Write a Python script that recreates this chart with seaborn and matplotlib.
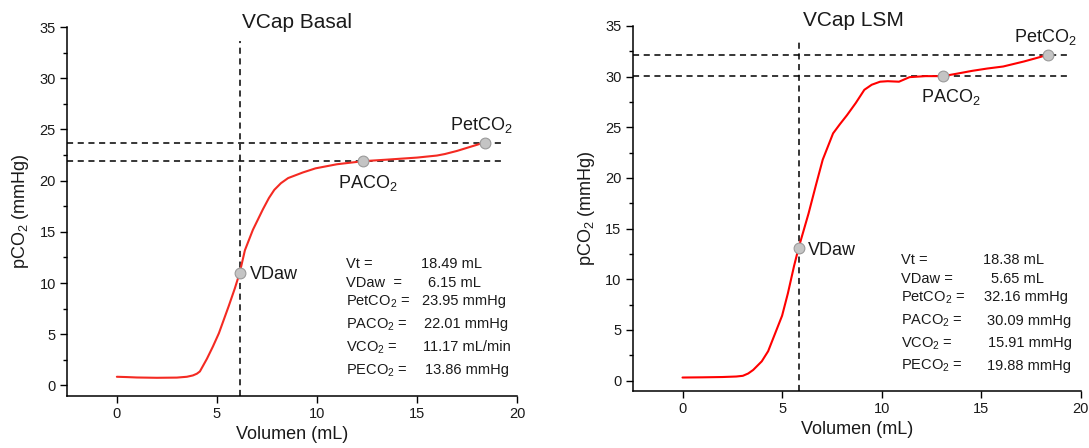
import numpy as np
import pandas as pd
import seaborn as sns
import matplotlib
matplotlib.use("Agg")
import matplotlib.pyplot as plt
from matplotlib.ticker import MultipleLocator

# ---------------- data ----------------
basal_vol = [0, 0.5, 1, 2, 3, 3.5, 3.8, 4.0, 4.15, 4.5, 4.8, 5.1, 5.6, 5.9, 6.14, 6.4, 6.8,
             7.3, 7.6, 7.87, 8.2, 8.56, 9.3, 9.93, 11, 12.31, 13.5, 15, 16.0, 16.4, 17.0,
             17.5, 18.0, 18.39]
basal_pco2 = [0.85, 0.82, 0.78, 0.75, 0.77, 0.85, 0.98, 1.15, 1.37, 2.6, 3.8, 5.1, 7.8, 9.5,
              11.0, 13.2, 15.2, 17.2, 18.3, 19.1, 19.75, 20.25, 20.8, 21.2, 21.6, 21.9, 22.05,
              22.25, 22.45, 22.6, 22.9, 23.2, 23.5, 23.75]
basal_pts_x = [6.14, 12.31, 18.39]
basal_pts_y = [11.03, 21.9, 23.72]

lsm_vol = [0, 1, 2, 2.7, 3.03, 3.3, 3.55, 3.98, 4.3, 4.59, 5.0, 5.29, 5.6, 5.83, 6.33, 6.7,
           7.04, 7.56, 7.9, 8.26, 8.7, 9.13, 9.5, 9.92, 10.3, 10.87, 11.4, 12.2, 13.09, 13.8,
           14.54, 15.3, 16.1, 17.15, 17.8, 18.33]
lsm_pco2 = [0.3, 0.32, 0.35, 0.4, 0.47, 0.7, 1.05, 1.9, 2.9, 4.35, 6.4, 8.6, 11.3, 13.1, 16.5,
            19.3, 21.8, 24.4, 25.3, 26.2, 27.4, 28.7, 29.2, 29.5, 29.55, 29.5, 29.95, 30.05,
            30.05, 30.3, 30.57, 30.8, 31.0, 31.5, 31.85, 32.15]
lsm_pts_x = [5.83, 13.09, 18.33]
lsm_pts_y = [13.1, 30.05, 32.15]

point_names = ["VDaw", r"PACO$_2$", r"PetCO$_2$"]
stat_labels_basal = ["Vt =", "VDaw  =", r"PetCO$_2$ =", r"PACO$_2$ =", r"VCO$_2$ =", r"PECO$_2$ ="]
stat_values_basal = ["18.49 mL", "6.15 mL", "23.95 mmHg", "22.01 mmHg", "11.17 mL/min", "13.86 mmHg"]
stat_labels_lsm = ["Vt =", "VDaw =", r"PetCO$_2$ =", r"PACO$_2$ =", r"VCO$_2$ =", r"PECO$_2$ ="]
stat_values_lsm = ["18.38 mL", "5.65 mL", "32.16 mmHg", "30.09 mmHg", "15.91 mmHg", "19.88 mmHg"]

titles = ["VCap Basal", "VCap LSM"]
xticks = [0, 5, 10, 15, 20]
yticks = [0, 5, 10, 15, 20, 25, 30, 35]

# ---------------- style ----------------
sns.set_theme(style="ticks")
plt.rcParams["font.family"] = ["Liberation Sans", "DejaVu Sans"]
plt.rcParams["mathtext.fontset"] = "custom"
plt.rcParams["mathtext.rm"] = "Liberation Sans"
plt.rcParams["mathtext.it"] = "Liberation Sans:italic"
plt.rcParams["mathtext.bf"] = "Liberation Sans:bold"

TXT = "#1a1a1a"

fig = plt.figure(figsize=(10.89, 4.48), dpi=100)
ax1 = fig.add_axes([0.0614, 0.1167, 0.4747 - 0.0614, 0.9397 - 0.1167])
ax2 = fig.add_axes([0.581, 0.1279, 0.9925 - 0.581, 0.942 - 0.1279])


def draw(ax, vol, pco2, px, py, color, title, title_x, title_y_px,
         stat_labels, stat_values, lab_x, val_xs, base_ys, name_pos, vline_top, hline_right):
    df = pd.DataFrame({"vol": vol, "pco2": pco2})
    sns.lineplot(data=df, x="vol", y="pco2", ax=ax, color=color, lw=1.5,
                 estimator=None, sort=False, zorder=3)
    # dashed guides
    ax.plot([px[0], px[0]], [-1, vline_top], ls=(0, (4, 3)), color="black", lw=1.1, zorder=2)
    ax.plot([-2.5, hline_right], [py[1], py[1]], ls=(0, (4, 3)), color="black", lw=1.1, zorder=2)
    ax.plot([-2.5, hline_right], [py[2], py[2]], ls=(0, (4, 3)), color="black", lw=1.1, zorder=2)
    sns.scatterplot(x=px, y=py, ax=ax, s=60, color="#c4c4c4", edgecolor="#9a9a9a",
                    linewidth=0.8, zorder=4)
    for name, (tx, ty) in zip(point_names, name_pos):
        ax.text(tx, ty, name, fontsize=13, color=TXT, ha="left", va="baseline")
    for lab, val, vx, by in zip(stat_labels, stat_values, val_xs, base_ys):
        ax.text(lab_x, by, lab, fontsize=10.5, color=TXT, ha="left", va="baseline")
        ax.text(vx, by, val, fontsize=10.5, color=TXT, ha="left", va="baseline")

    ax.set_xlim(-2.5, 20)
    ax.set_ylim(-1, 35)
    ax.set_xticks(xticks)
    ax.set_yticks(yticks)
    ax.yaxis.set_minor_locator(MultipleLocator(2.5))
    ax.tick_params(axis="both", which="major", direction="out", length=5, width=1,
                   labelsize=10.5, colors="black", labelcolor=TXT, pad=3)
    ax.tick_params(axis="y", which="minor", direction="out", length=3, width=1, colors="black")
    ax.set_xlabel("Volumen (mL)", fontsize=13, color=TXT, labelpad=4)
    ax.set_ylabel(r"pCO$_2$ (mmHg)", fontsize=13, color=TXT, labelpad=6)
    for s in ["left", "bottom"]:
        ax.spines[s].set_linewidth(1.1)
        ax.spines[s].set_color("black")
    sns.despine(ax=ax)
    ax.set_facecolor("white")
    fig.text(title_x, 1 - title_y_px / 448, title, fontsize=15, color=TXT, ha="center", va="center")


draw(ax1, basal_vol, basal_pco2, basal_pts_x, basal_pts_y, "#f42a22", titles[0],
     296.7 / 1089, 22.7,
     stat_labels_basal, stat_values_basal, 11.47,
     [15.21, 15.56, 15.23, 15.37, 15.3, 15.42],
     [11.46, 9.57, 7.81, 5.6, 3.32, 1.11],
     [(6.67, 10.4), (11.05, 19.29), (16.67, 24.92)], 33.6, 19.37)

draw(ax2, lsm_vol, lsm_pco2, lsm_pts_x, lsm_pts_y, "#ff0000", titles[1],
     853.2 / 1089, 20.7,
     stat_labels_lsm, stat_values_lsm, 10.95,
     [15.11, 15.5, 15.15, 15.27, 15.32, 15.29],
     [11.49, 9.62, 7.81, 5.5, 3.29, 1.05],
     [(6.3, 12.43), (11.95, 27.49), (16.66, 33.39)], 33.4, 19.42)

fig.savefig("out.png", dpi=100, facecolor="white")
